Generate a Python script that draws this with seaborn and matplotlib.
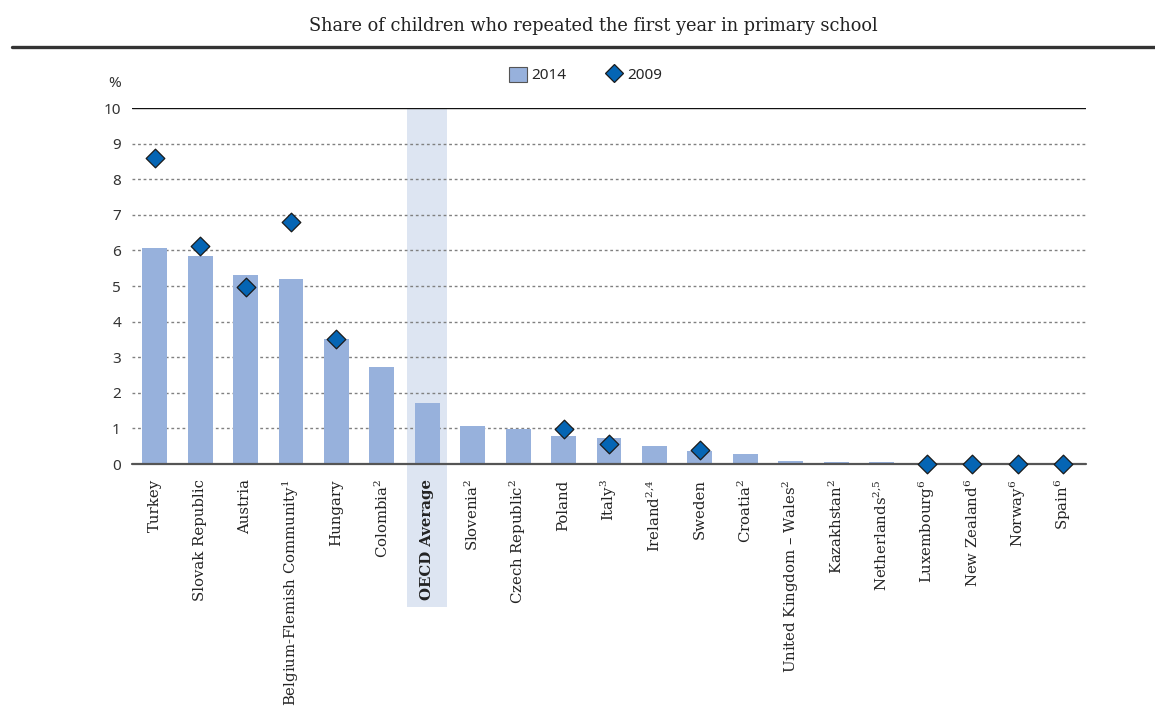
import numpy as np
import pandas as pd
import matplotlib
matplotlib.use("Agg")
import matplotlib.pyplot as plt
import seaborn as sns
from matplotlib.patches import Rectangle, Patch
from matplotlib.lines import Line2D
from matplotlib.transforms import blended_transform_factory

categories = ["Turkey", "Slovak Republic", "Austria", "Belgium-Flemish Community$^{1}$",
              "Hungary", "Colombia$^{2}$", "OECD Average", "Slovenia$^{2}$",
              "Czech Republic$^{2}$", "Poland", "Italy$^{3}$", "Ireland$^{2{,}4}$", "Sweden",
              "Croatia$^{2}$", "United Kingdom – Wales$^{2}$", "Kazakhstan$^{2}$",
              "Netherlands$^{2{,}5}$", "Luxembourg$^{6}$", "New Zealand$^{6}$",
              "Norway$^{6}$", "Spain$^{6}$"]
nan = np.nan
values_2014 = [6.08, 5.84, 5.30, 5.21, 3.51, 2.73, 1.72, 1.07, 0.97, 0.78, 0.74,
               0.51, 0.37, 0.28, 0.09, 0.05, 0.05, nan, nan, nan, nan]
values_2009 = [8.59, 6.13, 4.96, 6.81, 3.50, nan, nan, nan, nan, 0.99, 0.55,
               nan, 0.38, nan, nan, nan, nan, 0.0, 0.0, 0.0, 0.0]
y_ticks = [0, 1, 2, 3, 4, 5, 6, 7, 8, 9, 10]
title = "Share of children who repeated the first year in primary school"
highlight = "OECD Average"

sns.set_theme(style="white")
plt.rcParams["font.family"] = ["DejaVu Serif"]
plt.rcParams["mathtext.fontset"] = "dejavuserif"

BAR = "#97B1DC"
DIA = "#0565B4"
BAND = "#DDE5F2"

df = pd.DataFrame({"country": categories, "y2014": values_2014, "y2009": values_2009})

fig = plt.figure(figsize=(11.55, 7.13), dpi=100)
ax = fig.add_axes([132/1155, 1 - 464/713, 954/1155, 356/713])

hi = categories.index(highlight)
trans = blended_transform_factory(ax.transData, ax.transAxes)
ax.add_patch(Rectangle((hi - 0.44, -0.403), 0.88, 1.403, transform=trans,
                       facecolor=BAND, edgecolor="none", clip_on=False, zorder=0))

sns.barplot(data=df, x="country", y="y2014", color=BAR, width=0.55,
            saturation=1, edgecolor="none", ax=ax, zorder=2)
n_before = len(ax.collections)
sns.stripplot(data=df, x="country", y="y2009", jitter=False, marker="D", size=9.5,
              color=DIA, edgecolor="#1a1a1a", linewidth=0.9, ax=ax)
for c in ax.collections[n_before:]:
    c.set_clip_on(False)
    c.set_zorder(6)

ax.set_xlim(-0.5, len(categories) - 0.5)
ax.set_ylim(0, 10)
ax.set_yticks(y_ticks)
ax.set_yticklabels([str(t) for t in y_ticks], family="Noto Sans", fontsize=11, color="#333333")
ax.set_xlabel("")
ax.set_ylabel("")

for t in [1, 2, 3, 4, 5, 6, 7, 8, 9]:
    ax.axhline(t, color="#808080", lw=1.0, ls=(0, (2, 2)), zorder=1)
ax.axhline(10, color="#111111", lw=1.0, zorder=3)
ax.axhline(0, color="#555555", lw=1.6, zorder=5, clip_on=False)

for s in ax.spines.values():
    s.set_visible(False)
ax.patch.set_alpha(0)
ax.tick_params(axis="both", length=0)
ax.tick_params(axis="y", pad=8)
ax.tick_params(axis="x", pad=11)
ax.set_xticks(range(len(categories)))
ax.set_xticklabels(categories, rotation=90, fontsize=10.7, color="#222222", va="top", ha="center")
for lab in ax.get_xticklabels():
    if lab.get_text() == highlight:
        lab.set_fontweight("bold")

ax.text(-0.0115, 1.07, "%", transform=ax.transAxes, ha="right", va="center",
        family="Noto Sans", fontsize=11, color="#333333")

fig.text(0.514, 1 - 26/713, title, ha="center", va="center", fontsize=12.8, color="#222222")
fig.add_artist(Line2D([12/1155, 1.0], [1 - 47/713, 1 - 47/713], color="#333333", lw=2.4,
                      transform=fig.transFigure))

handles = [Patch(facecolor=BAR, edgecolor="#555555", linewidth=0.8, label="2014"),
           Line2D([], [], marker="D", ls="none", markersize=9.5, markerfacecolor=DIA,
                  markeredgecolor="#1a1a1a", markeredgewidth=0.9, label="2009")]
fig.legend(handles=handles, loc="center", bbox_to_anchor=(0.507, 1 - 75/713), ncol=2,
           frameon=False, prop={"family": "Noto Sans", "size": 11}, handlelength=1.2,
           handleheight=1.2, handletextpad=0.3, columnspacing=2.5)

fig.savefig("out.png", dpi=100)
